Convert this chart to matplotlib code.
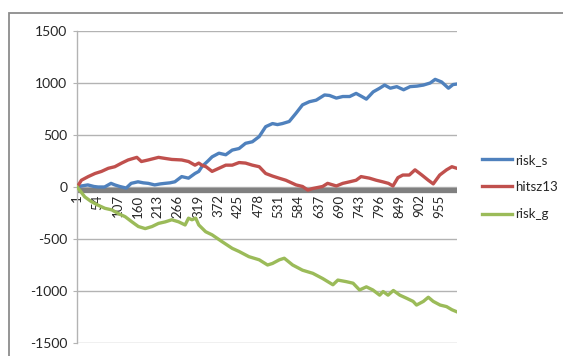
import matplotlib
matplotlib.use("Agg")
import matplotlib.pyplot as plt
from matplotlib.patches import Rectangle

# ---- data ----
risk_s_idx = [1, 12, 29, 45, 56, 73, 90, 100, 113, 130, 143, 161, 175, 188, 205, 220, 232, 245, 258, 276,
              294, 311, 321, 329, 345, 356, 374, 392, 409, 427, 444, 462, 480, 497, 515, 528, 541, 559, 577,
              594, 612, 630, 652, 665, 683, 700, 718, 735, 750, 762, 780, 797, 810, 825, 842, 860, 877, 895,
              912, 930, 943, 960, 978, 990, 1000]
risk_s_val = [0, 10, 20, 5, 0, 0, 35, 20, 5, -10, 35, 50, 40, 35, 20, 30, 35, 40, 50, 100,
              85, 130, 150, 195, 250, 290, 325, 310, 355, 370, 420, 435, 485, 580, 610, 600, 610, 630, 710,
              790, 820, 835, 885, 880, 855, 870, 870, 900, 870, 845, 915, 950, 980, 950, 965, 935, 965, 970,
              980, 1000, 1035, 1010, 950, 985, 990]

hitsz13_idx = [1, 12, 30, 48, 65, 83, 100, 118, 135, 158, 170, 188, 215, 232, 250, 276, 294, 311, 321, 329,
               340, 356, 374, 392, 409, 427, 444, 462, 480, 497, 515, 532, 550, 577, 594, 608, 620, 647, 660,
               683, 700, 718, 735, 748, 770, 788, 805, 820, 832, 845, 858, 875, 890, 908, 925, 938, 955, 973,
               987, 1000]
hitsz13_val = [0, 65, 100, 130, 150, 180, 195, 230, 260, 285, 245, 260, 285, 275, 265, 260, 245, 210, 230, 210,
               195, 150, 180, 210, 210, 235, 230, 210, 195, 130, 105, 85, 65, 20, 5, -30, -15, 5, 35,
               10, 35, 50, 65, 100, 85, 65, 50, 35, 10, 90, 115, 115, 165, 115, 65, 30, 115, 165,
               195, 180]

risk_g_idx = [1, 21, 38, 56, 74, 92, 109, 127, 145, 162, 180, 198, 215, 233, 250, 268, 285, 294, 303, 313,
              321, 339, 356, 382, 409, 427, 453, 480, 502, 515, 533, 546, 568, 594, 621, 647, 674, 687, 709,
              727, 744, 762, 779, 797, 806, 819, 833, 850, 868, 885, 894, 912, 925, 938, 956, 973, 987, 1000]
risk_g_val = [0, -95, -140, -175, -205, -220, -255, -285, -335, -380, -400, -380, -350, -335, -315, -335, -365,
              -300, -315, -300, -365, -430, -460, -525, -590, -620, -670, -700, -750, -735, -700, -685, -750,
              -800, -830, -880, -940, -895, -910, -925, -990, -960, -990, -1040, -1005, -1040, -995, -1040,
              -1070, -1100, -1135, -1100, -1060, -1100, -1135, -1150, -1180, -1200]

series_names = ["risk_s", "hitsz13", "risk_g"]
series_colors = ["#4F81BD", "#C0504D", "#9BBB59"]

x_tick_labels = ["1", "54", "107", "160", "213", "266", "319", "372", "425", "478", "531",
                 "584", "637", "690", "743", "796", "849", "902", "955"]
y_ticks = [-1500, -1000, -500, 0, 500, 1000, 1500]
n_points = 1000

# ---- figure ----
W, H = 563, 356
fig = plt.figure(figsize=(W / 100, H / 100), dpi=100)
fig.patch.set_facecolor("white")

# outer chart border
fig.add_artist(Rectangle((9 / W, -0.05), 1.2, 1 - 13 / H + 0.05, transform=fig.transFigure,
                         fill=False, edgecolor="#8c8c8c", linewidth=1.3))

ax = fig.add_axes([77 / W, 1 - 343 / H, (457 - 77) / W, (343 - 31) / H])
ax.set_facecolor("none")

font = ["Lato", "DejaVu Sans"]
txt_color = "#262626"

ax.set_ylim(-1500, 1500)
ax.set_xlim(0.5, n_points + 0.5)
ax.set_yticks(y_ticks)
ax.set_yticklabels([str(v) for v in y_ticks], fontfamily=font, fontsize=10, color=txt_color)
ax.yaxis.grid(True, color="#b3b3b3", linewidth=1.0)
ax.set_axisbelow(True)
ax.tick_params(axis="y", length=3, color="#b3b3b3", pad=4)

# category axis sits at the gray band just below zero
ax.spines["bottom"].set_position(("data", -45))
ax.spines["bottom"].set_visible(False)
xt = [int(s) for s in x_tick_labels]
ax.set_xticks(xt)
ax.set_xticklabels(x_tick_labels, rotation=90, fontfamily=font, fontsize=9.5, color=txt_color)
ax.tick_params(axis="x", length=0, pad=2)

for s in ["top", "right"]:
    ax.spines[s].set_visible(False)
ax.spines["left"].set_color("#b3b3b3")
ax.spines["left"].set_linewidth(1.0)

# gray thick horizontal axis band
ax.axhline(-25, color="#808080", linewidth=3.8, zorder=1.5)

data = [(risk_s_idx, risk_s_val), (hitsz13_idx, hitsz13_val), (risk_g_idx, risk_g_val)]
lines = []
for (xi, yv), name, c in zip(data, series_names, series_colors):
    ln, = ax.plot(xi, yv, color=c, linewidth=2.4, label=name, zorder=3)
    lines.append(ln)

leg = fig.legend(lines, series_names, loc="center left", bbox_to_anchor=(470 / W, 1 - 187 / H),
                 frameon=False, handlelength=2.3, handletextpad=0.2, labelspacing=1.15,
                 prop={"family": font, "size": 9.5})
for t in leg.get_texts():
    t.set_color(txt_color)

fig.savefig("out.png", dpi=100)
